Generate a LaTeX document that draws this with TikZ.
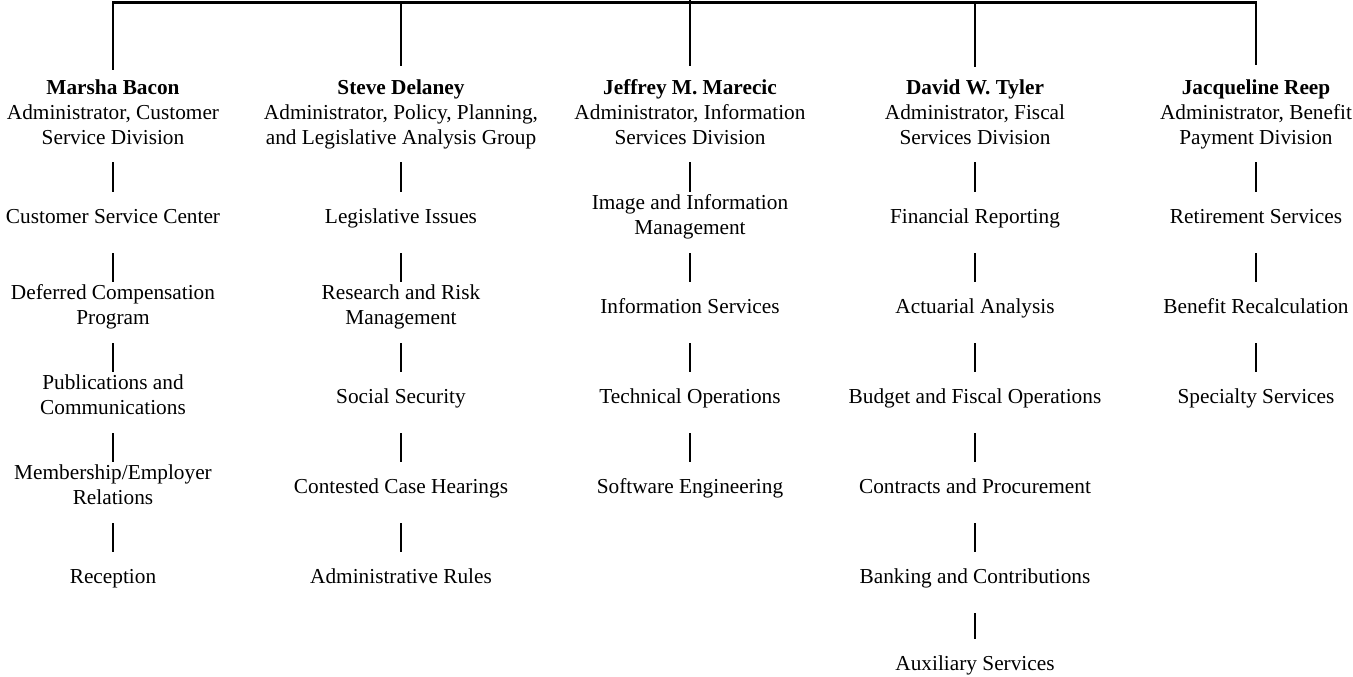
\documentclass[tikz,border=0pt]{standalone}
\usepackage{fontspec}
\setmainfont{Liberation Serif}
\begin{document}
\begin{tikzpicture}[x=1pt,y=-1pt,
  every node/.style={font=\fontsize{21.3}{25}\selectfont, align=center,
    inner sep=0pt, outer sep=0pt},
  unitbox/.style={minimum height=52pt,
    execute at begin node=\strut, execute at end node=\strut},
  headbox/.style={minimum height=92pt,
    execute at begin node=\strut, execute at end node=\strut},
  link/.style={line width=2.8pt, line cap=butt, line join=miter}]
\useasboundingbox (0,0) rectangle (1353,677);

% column positions and row centres
\def\ca{113}\def\cb{401}\def\cc{690}\def\cd{975}\def\ce{1256}
\def\hy{116}
\def\ra{218}\def\rb{308}\def\rc{398}\def\rd{488}\def\re{578}\def\rf{665}

% division heads
\node[headbox] (h1) at (\ca,\hy) {\textbf{Marsha Bacon}\\Administrator, Customer\\Service Division};
\node[headbox] (h2) at (\cb,\hy) {\textbf{Steve Delaney}\\Administrator, Policy, Planning,\\and Legislative Analysis Group};
\node[headbox] (h3) at (\cc,\hy) {\textbf{Jeffrey M. Marecic}\\Administrator, Information\\Services Division};
\node[headbox] (h4) at (\cd,\hy) {\textbf{David W. Tyler}\\Administrator, Fiscal\\Services Division};
\node[headbox] (h5) at (\ce,\hy) {\textbf{Jacqueline Reep}\\Administrator, Benefit\\Payment Division};

% Customer Service Division
\node[unitbox] (a1) at (\ca,\ra) {Customer Service Center};
\node[unitbox] (a2) at (\ca,\rb) {Deferred Compensation\\Program};
\node[unitbox] (a3) at (\ca,\rc) {Publications and\\Communications};
\node[unitbox] (a4) at (\ca,\rd) {Membership/Employer\\Relations};
\node[unitbox] (a5) at (\ca,\re) {Reception};

% Policy, Planning, and Legislative Analysis Group
\node[unitbox] (b1) at (\cb,\ra) {Legislative Issues};
\node[unitbox] (b2) at (\cb,\rb) {Research and Risk\\Management};
\node[unitbox] (b3) at (\cb,\rc) {Social Security};
\node[unitbox] (b4) at (\cb,\rd) {Contested Case Hearings};
\node[unitbox] (b5) at (\cb,\re) {Administrative Rules};

% Information Services Division
\node[unitbox] (c1) at (\cc,\ra) {Image and Information\\Management};
\node[unitbox] (c2) at (\cc,\rb) {Information Services};
\node[unitbox] (c3) at (\cc,\rc) {Technical Operations};
\node[unitbox] (c4) at (\cc,\rd) {Software Engineering};

% Fiscal Services Division
\node[unitbox] (d1) at (\cd,\ra) {Financial Reporting};
\node[unitbox] (d2) at (\cd,\rb) {Actuarial Analysis};
\node[unitbox] (d3) at (\cd,\rc) {Budget and Fiscal Operations};
\node[unitbox] (d4) at (\cd,\rd) {Contracts and Procurement};
\node[unitbox] (d5) at (\cd,\re) {Banking and Contributions};
\node[unitbox] (d6) at (\cd,\rf) {Auxiliary Services};

% Benefit Payment Division
\node[unitbox] (e1) at (\ce,\ra) {Retirement Services};
\node[unitbox] (e2) at (\ce,\rb) {Benefit Recalculation};
\node[unitbox] (e3) at (\ce,\rc) {Specialty Services};

% top bar
\coordinate (top) at (\cc,0);
\coordinate (t1) at (\ca,2.5);
\coordinate (t2) at (\cb,2.5);
\coordinate (t3) at (\cc,2.5);
\coordinate (t4) at (\cd,2.5);
\coordinate (t5) at (\ce,2.5);
\draw[link] (h1.north) -- (t1) -- (t5) -- ([yshift=5pt]h5.north);
\draw[link] (top) -- (t3);
\draw[link] (t2) -- ([yshift=4pt]h2.north);
\draw[link] (t3) -- ([yshift=4pt]h3.north);
\draw[link] (t4) -- ([yshift=3pt]h4.north);

% heads to their first unit
\draw[link] (h1.south) -- (a1.north);
\draw[link] (h2.south) -- (b1.north);
\draw[link] (h3.south) -- (c1.north);
\draw[link] (h4.south) -- (d1.north);
\draw[link] (h5.south) -- (e1.north);

% unit to unit
\draw[link] ([yshift=-9pt]a1.south) -- (a2.north);
\draw[link] ([yshift=-9pt]a2.south) -- (a3.north);
\draw[link] ([yshift=-9pt]a3.south) -- (a4.north);
\draw[link] ([yshift=-9pt]a4.south) -- (a5.north);

\draw[link] ([yshift=-9pt]b1.south) -- (b2.north);
\draw[link] ([yshift=-9pt]b2.south) -- (b3.north);
\draw[link] ([yshift=-9pt]b3.south) -- (b4.north);
\draw[link] ([yshift=-9pt]b4.south) -- (b5.north);

\draw[link] ([yshift=-9pt]c1.south) -- (c2.north);
\draw[link] ([yshift=-9pt]c2.south) -- (c3.north);
\draw[link] ([yshift=-9pt]c3.south) -- (c4.north);

\draw[link] ([yshift=-9pt]d1.south) -- (d2.north);
\draw[link] ([yshift=-9pt]d2.south) -- (d3.north);
\draw[link] ([yshift=-9pt]d3.south) -- (d4.north);
\draw[link] ([yshift=-9pt]d4.south) -- (d5.north);
\draw[link] ([yshift=-9pt]d5.south) -- (d6.north);

\draw[link] ([yshift=-9pt]e1.south) -- (e2.north);
\draw[link] ([yshift=-9pt]e2.south) -- (e3.north);

\end{tikzpicture}
\end{document}
